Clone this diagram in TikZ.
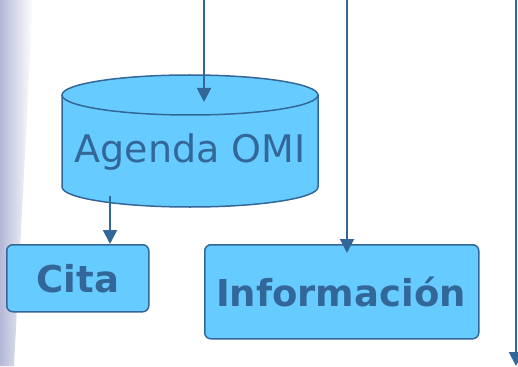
\documentclass[tikz,border=0pt]{standalone}
\usepackage{fontspec}
\setmainfont{DejaVu Sans}
\usetikzlibrary{arrows.meta}
\definecolor{boxfill}{HTML}{66CCFF}
\definecolor{boxline}{HTML}{336699}
\definecolor{stripe}{HTML}{B4B8D6}
\tikzset{
  flowbox/.style={draw=boxline, fill=boxfill, line width=1.5pt, rounded corners=6pt},
  boxtext/.style={text=boxline, font=\bfseries\fontsize{37}{40}\selectfont},
  conn/.style={draw=boxline, line width=2pt, -{Triangle[length=14pt,width=14pt]}}
}
\begin{document}
\begin{tikzpicture}[x=1pt,y=-1pt]
\useasboundingbox (0,0) rectangle (518,366);
% left decorative stripe
\shade[left color=stripe, right color=white] (0,0) -- (33,0) -- (14,366) -- (0,366) -- cycle;
% cylinder
\filldraw[draw=boxline, fill=boxfill, line width=1.5pt]
  (62,95) -- (62,187) arc[start angle=180, end angle=0, x radius=128, y radius=20] -- (318,95)
  arc[start angle=0, end angle=-180, x radius=128, y radius=20] -- cycle;
\draw[draw=boxline, line width=1.5pt] (62,95) arc[start angle=180, end angle=0, x radius=128, y radius=20];
\node[text=boxline, font=\fontsize{38}{42}\selectfont] (agenda) at (190,152) {Agenda OMI};
\coordinate (cyltop) at (204,102);
\coordinate (cylbot) at (110,196);
% boxes
\node[flowbox, minimum width=142pt, minimum height=67pt, anchor=north west] (cita) at (6,244) {};
\node[boxtext] at (cita.center) {Cita};
\node[flowbox, minimum width=274pt, minimum height=94pt, anchor=north west] (info) at (204,244) {};
\node[boxtext] at (341,292) {Información};
% free ends
\coordinate (in1) at (204,0);
\coordinate (in2) at (347,0);
\coordinate (in3) at (516,0);
\coordinate (out3) at (516,366);
\coordinate (infotip) at (347,253);
% connectors
\draw[conn] (in1) -- (cyltop);
\draw[conn] (cylbot) -- (cita.north -| cylbot);
\draw[conn] (in2) -- (infotip);
\draw[conn] (in3) -- (out3);
\end{tikzpicture}
\end{document}
